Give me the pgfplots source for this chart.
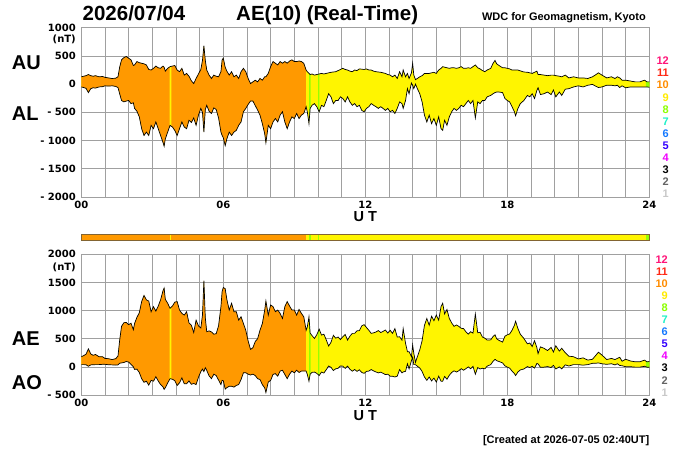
\documentclass[border=0pt]{standalone}
\usepackage{fontspec}
\setmainfont{Liberation Sans}
\newfontfamily\tickfont{DejaVu Sans}
\usepackage{pgfplots}
\pgfplotsset{compat=1.18}
\usepackage{pgfplotstable}
\usepgfplotslibrary{fillbetween}

\definecolor{corange}{RGB}{255,153,0}
\definecolor{cyellow}{RGB}{255,245,0}
\definecolor{cgreen}{RGB}{150,255,0}
\definecolor{gridgray}{RGB}{160,160,160}
\definecolor{barborder}{RGB}{130,100,50}
\definecolor{l12}{RGB}{255,20,120}
\definecolor{l11}{RGB}{255,40,20}
\definecolor{l10}{RGB}{255,140,0}
\definecolor{l9}{RGB}{255,235,0}
\definecolor{l8}{RGB}{140,255,0}
\definecolor{l7}{RGB}{30,240,200}
\definecolor{l6}{RGB}{20,120,255}
\definecolor{l5}{RGB}{50,0,255}
\definecolor{l4}{RGB}{240,0,255}
\definecolor{l3}{RGB}{0,0,0}
\definecolor{l2}{RGB}{100,100,100}
\definecolor{l1}{RGB}{200,200,200}

\newcommand\titlefont{\bfseries\fontsize{20.5bp}{24bp}\selectfont}
\newcommand\bigfont{\bfseries\fontsize{20bp}{24bp}\selectfont}
\newcommand\smallbold{\bfseries\fontsize{11bp}{13bp}\selectfont}
\newcommand\utfont{\bfseries\fontsize{14.5bp}{17bp}\selectfont}
\newcommand\tfont{\tickfont\bfseries\fontsize{10bp}{12bp}\selectfont}

\pgfplotstableread{
t AU AL AE AO
0.00 130 -50 180 40
0.10 140 -60 200 40
0.20 150 -75 225 37.5
0.30 170 -150 320 10
0.40 150 -80 230 35
0.50 140 -65 205 37.5
0.60 150 -70 220 40
0.75 130 -50 180 40
0.90 135 -45 180 45
1.00 120 -30 150 45
1.15 110 -35 145 37.5
1.30 100 -30 130 35
1.45 105 -40 145 32.5
1.55 130 -60 190 35
1.62 300 -170 470 65
1.70 430 -290 720 70
1.80 470 -315 785 77.5
1.90 490 -300 790 95
2.00 460 -290 750 85
2.10 430 -345 775 42.5
2.20 330 -330 660 0
2.25 340 -430 770 -45
2.35 400 -480 880 -40
2.45 380 -580 960 -100
2.55 370 -790 1160 -210
2.65 360 -910 1270 -275
2.75 340 -850 1190 -255
2.85 260 -910 1170 -325
2.95 250 -730 980 -240
3.05 280 -790 1070 -255
3.15 320 -670 990 -175
3.25 290 -790 1080 -250
3.35 280 -910 1190 -315
3.45 320 -1030 1350 -355
3.50 300 -1100 1400 -400
3.55 230 -970 1200 -370
3.65 280 -850 1130 -285
3.75 310 -730 1040 -210
3.85 320 -760 1080 -220
3.95 330 -820 1150 -245
4.05 250 -910 1160 -330
4.15 220 -790 1010 -285
4.25 280 -670 950 -195
4.35 160 -760 920 -300
4.45 190 -790 980 -300
4.55 140 -640 780 -250
4.65 60 -680 740 -310
4.75 10 -600 610 -295
4.85 100 -730 830 -315
4.95 180 -550 730 -185
5.05 260 -430 690 -85
5.12 420 -500 920 -40
5.18 680 -850 1530 -85
5.24 420 -450 870 -15
5.30 250 -375 625 -62.5
5.40 160 -480 640 -160
5.50 100 -520 620 -210
5.60 160 -420 580 -130
5.70 140 -450 590 -155
5.80 130 -600 730 -235
5.90 220 -850 1070 -315
5.95 430 -910 1340 -240
6.00 460 -950 1410 -245
6.08 300 -1090 1390 -395
6.15 230 -970 1200 -370
6.25 160 -850 1010 -345
6.35 220 -910 1130 -345
6.45 130 -850 980 -360
6.55 160 -820 980 -330
6.65 100 -730 830 -315
6.75 220 -670 890 -225
6.85 280 -490 770 -105
6.95 220 -430 650 -105
7.05 100 -360 460 -130
7.15 10 -300 310 -145
7.25 40 -300 340 -130
7.35 70 -380 450 -155
7.45 40 -460 500 -210
7.55 100 -550 650 -225
7.65 70 -700 770 -315
7.75 130 -880 1010 -375
7.80 130 -1040 1170 -455
7.90 190 -730 920 -270
8.00 310 -790 1100 -240
8.10 400 -670 1070 -135
8.20 370 -610 980 -120
8.30 340 -670 1010 -165
8.40 400 -550 950 -75
8.50 370 -490 860 -60
8.60 400 -670 1070 -135
8.70 370 -790 1160 -210
8.80 410 -670 1080 -130
8.90 430 -580 1010 -75
9.00 400 -610 1010 -105
9.10 400 -520 920 -60
9.20 410 -610 1020 -100
9.30 400 -550 950 -75
9.40 370 -520 890 -75
9.50 250 -400 650 -75
9.55 220 -490 710 -135
9.62 190 -700 890 -255
9.67 170 -430 600 -130
9.75 180 -375 555 -97.5
9.85 160 -345 505 -92.5
9.95 170 -400 570 -115
10.05 180 -490 670 -155
10.15 190 -375 565 -92.5
10.25 180 -400 580 -110
10.35 190 -290 480 -50
10.45 200 -170 370 15
10.55 210 -225 435 -7.5
10.65 215 -345 560 -65
10.75 220 -290 510 -35
10.85 240 -290 530 -25
10.95 260 -225 485 17.5
11.05 280 -255 535 12.5
11.15 260 -315 575 -27.5
11.25 250 -225 475 12.5
11.35 230 -315 545 -42.5
11.45 220 -375 595 -77.5
11.55 250 -345 595 -47.5
11.65 240 -400 640 -80
11.75 270 -375 645 -52.5
11.85 265 -465 730 -100
11.95 260 -490 750 -115
12.05 270 -430 700 -80
12.15 250 -400 650 -75
12.25 250 -345 595 -47.5
12.35 230 -375 605 -72.5
12.45 220 -400 620 -90
12.55 215 -430 645 -107.5
12.65 210 -400 610 -95
12.75 200 -430 630 -115
12.85 190 -465 655 -137.5
12.95 170 -430 600 -130
13.05 160 -490 650 -165
13.15 130 -465 595 -167.5
13.25 160 -520 680 -180
13.35 100 -430 530 -165
13.45 220 -315 535 -47.5
13.55 130 -345 475 -107.5
13.60 250 -430 680 -90
13.70 130 -290 420 -80
13.78 190 -80 270 55
13.85 100 -170 270 -35
13.95 200 20 180 110
14.00 370 -20 390 175
14.05 160 -80 240 40
14.12 80 0 80 40
14.20 100 -80 180 10
14.30 130 -170 300 -20
14.40 150 -315 465 -82.5
14.50 190 -550 740 -180
14.60 190 -670 860 -240
14.70 190 -550 740 -180
14.80 200 -700 900 -250
14.90 210 -610 820 -200
15.00 190 -730 920 -270
15.10 250 -580 830 -165
15.20 280 -790 1070 -255
15.27 310 -820 1130 -255
15.35 300 -640 940 -170
15.45 290 -730 1020 -220
15.55 280 -580 860 -150
15.65 290 -490 780 -100
15.75 290 -430 720 -70
15.85 280 -465 745 -92.5
15.95 290 -430 720 -70
16.05 310 -375 685 -32.5
16.15 280 -400 680 -60
16.25 280 -345 625 -32.5
16.35 290 -290 580 0
16.45 280 -345 625 -32.5
16.55 310 -290 600 10
16.65 340 -600 940 -130
16.75 290 -315 605 -12.5
16.85 270 -345 615 -37.5
16.95 240 -290 530 -25
17.05 220 -290 510 -35
17.15 250 -225 475 12.5
17.30 280 -200 480 40
17.40 370 -170 540 100
17.48 420 -150 570 135
17.55 360 -140 500 110
17.65 330 -140 470 95
17.80 290 -150 440 70
17.90 290 -255 545 17.5
18.00 280 -290 570 -5
18.10 270 -315 585 -22.5
18.20 250 -400 650 -75
18.30 250 -490 740 -120
18.35 250 -560 810 -155
18.45 250 -430 680 -90
18.55 235 -345 580 -55
18.70 215 -290 505 -37.5
18.85 210 -200 410 5
18.95 200 -225 425 -12.5
19.05 190 -170 360 10
19.15 210 -255 465 -22.5
19.25 230 -110 340 60
19.30 170 -65 235 52.5
19.40 170 -185 355 -7.5
19.55 160 -170 330 -5
19.70 150 -140 290 5
19.85 160 -185 345 -12.5
19.95 160 -105 265 27.5
20.05 150 -225 375 -37.5
20.20 140 -140 280 0
20.30 130 -200 330 -35
20.45 160 -90 250 35
20.60 110 -80 190 15
20.80 130 -50 180 40
21.00 110 -30 140 40
21.20 110 -50 160 30
21.40 100 -20 120 40
21.60 130 -5 135 62.5
21.75 170 -40 210 65
21.85 200 -60 260 70
22.00 160 -50 210 55
22.20 110 -20 130 45
22.40 130 -20 150 55
22.55 100 -30 130 35
22.65 130 -20 150 55
22.75 110 -60 170 25
22.85 70 -30 100 20
23.00 70 -65 135 2.5
23.20 55 -50 105 2.5
23.40 40 -50 90 -5
23.60 40 -50 90 -5
23.80 70 -50 120 10
23.90 40 -50 90 -5
24.00 40 -55 95 -7.5
}\aedata

\pgfplotsset{
  aepanel/.style={
    scale only axis, width=568bp, xmin=0, xmax=24,
    xtick={0,6,12,18,24}, xticklabels={00,06,12,18,24},
    minor xtick={1,2,3,4,5,7,8,9,10,11,13,14,15,16,17,19,20,21,22,23},
    grid=both,
    major grid style={draw=gridgray, line width=0.7bp},
    minor grid style={draw=gridgray, line width=0.7bp},
    axis line style={draw=gridgray, line width=0.7bp},
    major tick length=0pt, minor tick length=0pt,
    ticklabel style={font=\tfont},
    xticklabel style={anchor=north, inner sep=0pt, yshift=-3.5bp},
    yticklabel style={anchor=east, inner sep=0pt, xshift=-5.3bp},
  }
}

\begin{document}
\begin{tikzpicture}
\path (0bp,0bp) rectangle (700bp,450bp);

% ---------- top panel AU / AL ----------
\begin{axis}[aepanel, at={(81.3bp,253bp)}, anchor=south west, height=169.3bp,
  ymin=-2000, ymax=1000, ytick={-2000,-1500,-1000,-500,0,500,1000},
  yticklabels={- 2000,- 1500,- 1000,- 500,0,500,1000}]
\addplot[draw=none, name path=AU] table[x=t, y=AU]{\aedata};
\addplot[draw=none, name path=AL] table[x=t, y=AL]{\aedata};
\addplot[fill=cyellow, draw=none] fill between[of=AU and AL];
\addplot[fill=corange, draw=none] fill between[of=AU and AL, soft clip={(axis cs:0,-2000) rectangle (axis cs:3.73,1000)}];
\addplot[fill=corange, draw=none] fill between[of=AU and AL, soft clip={(axis cs:3.81,-2000) rectangle (axis cs:9.49,1000)}];
\addplot[fill=cgreen, draw=none] fill between[of=AU and AL, soft clip={(axis cs:9.63,-2000) rectangle (axis cs:9.69,1000)}];
\addplot[fill=cgreen, draw=none] fill between[of=AU and AL, soft clip={(axis cs:10.01,-2000) rectangle (axis cs:10.06,1000)}];
\addplot[fill=cgreen, draw=none] fill between[of=AU and AL, soft clip={(axis cs:23.86,-2000) rectangle (axis cs:24,1000)}];
\addplot[black, line width=0.7bp] table[x=t, y=AU]{\aedata};
\addplot[black, line width=0.7bp] table[x=t, y=AL]{\aedata};
\end{axis}

% ---------- station bar ----------
\begin{axis}[at={(81.3bp,210bp)}, anchor=south west, scale only axis,
  width=568bp, height=5.7bp, xmin=0, xmax=24, ymin=0, ymax=1,
  xtick=\empty, ytick=\empty, axis on top, axis line style={draw=barborder, line width=0.6bp}]
\addplot[fill=corange, draw=none] coordinates {(0,1) (3.73,1)} \closedcycle;
\addplot[fill=cyellow, draw=none] coordinates {(3.73,1) (3.81,1)} \closedcycle;
\addplot[fill=corange, draw=none] coordinates {(3.81,1) (9.49,1)} \closedcycle;
\addplot[fill=cyellow, draw=none] coordinates {(9.49,1) (9.63,1)} \closedcycle;
\addplot[fill=cgreen, draw=none] coordinates {(9.63,1) (9.69,1)} \closedcycle;
\addplot[fill=cyellow, draw=none] coordinates {(9.69,1) (10.01,1)} \closedcycle;
\addplot[fill=cgreen, draw=none] coordinates {(10.01,1) (10.06,1)} \closedcycle;
\addplot[fill=cyellow, draw=none] coordinates {(10.06,1) (23.86,1)} \closedcycle;
\addplot[fill=cgreen, draw=none] coordinates {(23.86,1) (24,1)} \closedcycle;
\end{axis}

% ---------- bottom panel AE / AO ----------
\begin{axis}[aepanel, at={(81.3bp,55bp)}, anchor=south west, height=140.7bp,
  ymin=-500, ymax=2000, ytick={-500,0,500,1000,1500,2000},
  yticklabels={- 500,0,500,1000,1500,2000}]
\addplot[draw=none, name path=AE] table[x=t, y=AE]{\aedata};
\addplot[draw=none, name path=AO] table[x=t, y=AO]{\aedata};
\addplot[fill=cyellow, draw=none] fill between[of=AE and AO];
\addplot[fill=corange, draw=none] fill between[of=AE and AO, soft clip={(axis cs:0,-500) rectangle (axis cs:3.73,2000)}];
\addplot[fill=corange, draw=none] fill between[of=AE and AO, soft clip={(axis cs:3.81,-500) rectangle (axis cs:9.49,2000)}];
\addplot[fill=cgreen, draw=none] fill between[of=AE and AO, soft clip={(axis cs:9.63,-500) rectangle (axis cs:9.69,2000)}];
\addplot[fill=cgreen, draw=none] fill between[of=AE and AO, soft clip={(axis cs:10.01,-500) rectangle (axis cs:10.06,2000)}];
\addplot[fill=cgreen, draw=none] fill between[of=AE and AO, soft clip={(axis cs:23.86,-500) rectangle (axis cs:24,2000)}];
\addplot[black, line width=0.7bp] table[x=t, y=AE]{\aedata};
\addplot[black, line width=0.7bp] table[x=t, y=AO]{\aedata};
\end{axis}

% ---------- texts ----------
\node[anchor=base west, inner sep=0pt, font=\titlefont] at (82.5bp,429.3bp) {2026/07/04};
\node[anchor=base west, inner sep=0pt, font=\titlefont] at (236bp,429.3bp) {AE(10) (Real-Time)};
\node[anchor=base east, inner sep=0pt, font=\smallbold] at (646bp,429bp) {WDC for Geomagnetism, Kyoto};
\node[anchor=west, inner sep=0pt, font=\bigfont] at (11.7bp,387.5bp) {AU};
\node[anchor=west, inner sep=0pt, font=\bigfont] at (11.7bp,336bp) {AL};
\node[anchor=west, inner sep=0pt, font=\bigfont] at (11.7bp,111bp) {AE};
\node[anchor=west, inner sep=0pt, font=\bigfont] at (11.7bp,67.5bp) {AO};
\node[anchor=east, inner sep=0pt, font=\tfont] at (76bp,410.5bp) {(nT)};
\node[anchor=east, inner sep=0pt, font=\tfont] at (76bp,183bp) {(nT)};
\node[inner sep=0pt, font=\utfont] at (365.3bp,233bp) {U T};
\node[inner sep=0pt, font=\utfont] at (365.3bp,34.5bp) {U T};
\node[anchor=base east, inner sep=0pt, font=\smallbold] at (649.5bp,6.7bp) {[Created at 2026-07-05 02:40UT]};

% station-count legends
\foreach \n [count=\i from 0] in {12,11,10,9,8,7,6,5,4,3,2,1} {
  \node[anchor=east, inner sep=0pt, font=\smallbold, text=l\n] at (669bp,{389bp-\i*12.1bp}) {\n};
  \node[anchor=east, inner sep=0pt, font=\smallbold, text=l\n] at (668bp,{190.7bp-\i*12.1bp}) {\n};
}
\end{tikzpicture}
\end{document}
